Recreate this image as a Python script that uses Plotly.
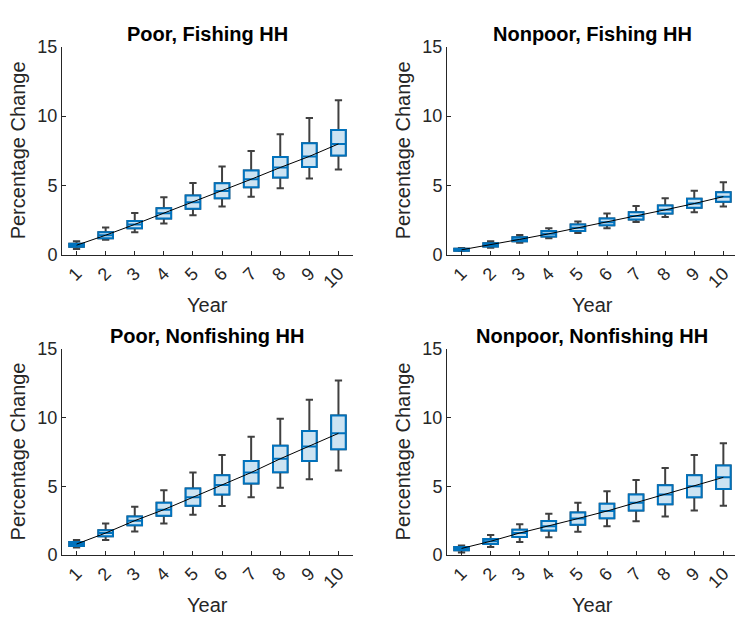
import plotly.graph_objects as go

W, H = 735, 626

years = [1, 2, 3, 4, 5, 6, 7, 8, 9, 10]
year_labels = ["1", "2", "3", "4", "5", "6", "7", "8", "9", "10"]
y_ticks = [0, 5, 10, 15]
titles = ["Poor, Fishing HH", "Nonpoor, Fishing HH", "Poor, Nonfishing HH", "Nonpoor, Nonfishing HH"]

# Poor, Fishing HH
pf_low = [0.42, 1.09, 1.63, 2.26, 2.86, 3.49, 4.19, 4.81, 5.51, 6.16]
pf_q1 = [0.58, 1.21, 1.93, 2.63, 3.33, 4.09, 4.88, 5.58, 6.33, 7.16]
pf_med = [0.70, 1.42, 2.20, 3.00, 3.80, 4.60, 5.45, 6.30, 7.10, 8.00]
pf_q3 = [0.81, 1.63, 2.44, 3.37, 4.28, 5.16, 6.09, 7.05, 8.05, 9.00]
pf_high = [0.98, 1.98, 3.02, 4.16, 5.19, 6.37, 7.49, 8.70, 9.86, 11.14]

# Nonpoor, Fishing HH
nf_low = [0.28, 0.51, 0.88, 1.21, 1.58, 1.93, 2.37, 2.74, 3.07, 3.49]
nf_q1 = [0.30, 0.60, 0.98, 1.33, 1.72, 2.14, 2.56, 2.98, 3.40, 3.84]
nf_med = [0.37, 0.72, 1.12, 1.52, 1.95, 2.35, 2.80, 3.25, 3.70, 4.20]
nf_q3 = [0.44, 0.84, 1.28, 1.72, 2.19, 2.63, 3.07, 3.56, 4.05, 4.51]
nf_high = [0.50, 0.98, 1.44, 1.93, 2.40, 2.98, 3.53, 4.09, 4.63, 5.23]

# Poor, Nonfishing HH
pn_low = [0.54, 1.10, 1.71, 2.30, 2.93, 3.56, 4.20, 4.90, 5.51, 6.14]
pn_q1 = [0.66, 1.36, 2.16, 2.86, 3.59, 4.41, 5.20, 6.02, 6.84, 7.69]
pn_med = [0.80, 1.60, 2.50, 3.30, 4.20, 5.10, 6.00, 7.00, 7.90, 8.85]
pn_q3 = [0.94, 1.80, 2.81, 3.80, 4.83, 5.81, 6.84, 7.94, 9.02, 10.15]
pn_high = [1.10, 2.30, 3.52, 4.71, 6.00, 7.27, 8.60, 9.91, 11.30, 12.70]

# Nonpoor, Nonfishing HH
nn_low = [0.19, 0.59, 0.94, 1.29, 1.69, 2.10, 2.46, 2.81, 3.23, 3.59]
nn_q1 = [0.35, 0.80, 1.31, 1.78, 2.20, 2.67, 3.23, 3.70, 4.20, 4.80]
nn_med = [0.48, 1.00, 1.60, 2.10, 2.65, 3.20, 3.80, 4.40, 5.00, 5.65]
nn_q3 = [0.59, 1.17, 1.83, 2.48, 3.09, 3.73, 4.40, 5.08, 5.81, 6.52]
nn_high = [0.70, 1.45, 2.23, 3.00, 3.80, 4.64, 5.46, 6.33, 7.27, 8.13]

panels = [
    (pf_low, pf_q1, pf_med, pf_q3, pf_high),
    (nf_low, nf_q1, nf_med, nf_q3, nf_high),
    (pn_low, pn_q1, pn_med, pn_q3, pn_high),
    (nn_low, nn_q1, nn_med, nn_q3, nn_high),
]

FONT = "Liberation Sans, Arial, Helvetica, sans-serif"
AX = "#262626"
BLUE = "#0072BD"
FILL = "rgb(204,227,242)"
WHISK = "rgb(64,64,64)"

# pixel boxes of the four plot areas (left, right, top, bottom)
areas = [
    (62, 353, 38, 253),
    (447, 735, 38, 253),
    (62, 353, 350, 563),
    (447, 735, 350, 563),
]
xranges = [[0.5, 10.5], [0.5, 10.4], [0.5, 10.5], [0.5, 10.4]]

fig = go.Figure()
layout = dict(
    width=W, height=H, margin=dict(l=0, r=0, t=0, b=0),
    paper_bgcolor="white", plot_bgcolor="white", showlegend=False,
    font=dict(family=FONT, color=AX), boxmode="overlay",
)
annotations = []

for i, (low, q1, med, q3, high) in enumerate(panels):
    sfx = "" if i == 0 else str(i + 1)
    xa, ya = "x" + sfx, "y" + sfx
    l, r, t, b = areas[i]
    # whiskers (gray)
    fig.add_trace(go.Box(
        x=years, q1=q1, median=med, q3=q3, lowerfence=low, upperfence=high,
        xaxis=xa, yaxis=ya, width=0.5, whiskerwidth=0.5,
        line=dict(color=WHISK, width=2), fillcolor=FILL,
        boxpoints=False, hoverinfo="skip",
    ))
    # boxes (blue)
    fig.add_trace(go.Box(
        x=years, q1=q1, median=med, q3=q3, lowerfence=q1, upperfence=q3,
        xaxis=xa, yaxis=ya, width=0.5, whiskerwidth=0.0,
        line=dict(color=BLUE, width=2), fillcolor=FILL,
        boxpoints=False,
    ))
    # median line
    fig.add_trace(go.Scatter(
        x=years, y=med, mode="lines", xaxis=xa, yaxis=ya,
        line=dict(color="black", width=1),
    ))
    layout["xaxis" + sfx] = dict(
        domain=[l / W, r / W], anchor=ya, range=xranges[i],
        tickmode="array", tickvals=years, ticktext=year_labels, tickangle=-45,
        ticks="inside", ticklen=4, tickcolor=AX, showline=True, linecolor=AX, linewidth=1,
        showgrid=False, zeroline=False, tickfont=dict(size=18, color=AX, family=FONT),
        fixedrange=True,
    )
    layout["yaxis" + sfx] = dict(
        domain=[1 - b / H, 1 - t / H], anchor=xa, range=[0, 15],
        tickmode="array", tickvals=y_ticks, ticks="inside", ticklen=4, tickcolor=AX,
        showline=True, linecolor=AX, linewidth=1, showgrid=False, zeroline=False,
        tickfont=dict(size=18, color=AX, family=FONT), fixedrange=True,
    )
    cx = (l + (l + (r - l) * 10.0 / (xranges[i][1] - xranges[i][0]))) / 2 if False else None
    xc = (l + 291 / 2 + l) / 2 if False else l + 145
    annotations.append(dict(
        text="<b>" + titles[i] + "</b>", x=xc / W, y=1 - (t - 13.5) / H,
        xref="paper", yref="paper", xanchor="center", yanchor="middle",
        showarrow=False, font=dict(size=20, color="black", family=FONT),
    ))
    annotations.append(dict(
        text="Percentage Change", x=(l - 44.5) / W, y=1 - ((t + b) / 2) / H,
        xref="paper", yref="paper", xanchor="center", yanchor="middle",
        textangle=-90, showarrow=False, font=dict(size=20, color=AX, family=FONT),
    ))
    annotations.append(dict(
        text="Year", x=xc / W, y=1 - (b + 52) / H,
        xref="paper", yref="paper", xanchor="center", yanchor="middle",
        showarrow=False, font=dict(size=20, color=AX, family=FONT),
    ))

layout["annotations"] = annotations
fig.update_layout(**layout)
fig.write_html("out.html")
